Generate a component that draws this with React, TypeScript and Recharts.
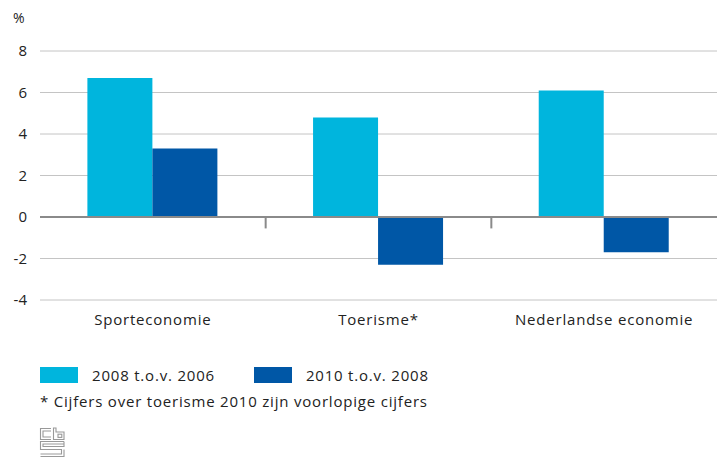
import { BarChart, Bar, XAxis, YAxis, CartesianGrid, ReferenceLine } from 'recharts'

const categories = ['Sporteconomie', 'Toerisme*', 'Nederlandse economie']
const values2008 = [6.7, 4.8, 6.1]
const values2010 = [3.3, -2.3, -1.7]
const yTicks = [-4, -2, 0, 2, 4, 6, 8]

const seriesNames = ['2008 t.o.v. 2006', '2010 t.o.v. 2008']
const COLORS = ['#00b5dd', '#0057a6']
const FONT = '"Open Sans", sans-serif'
const LS = 0.8

const data = categories.map((name, i) => ({
  name,
  a: values2008[i],
  b: values2010[i],
}))

function CbsLogo() {
  // rough outline of the CBS mark
  return (
    <svg width={34} height={33} viewBox="0 0 34 33" style={{ display: 'block' }}>
      <g fill="none" stroke="#999" strokeWidth={1.1}>
        <path d="M15 4.5 H4.5 V15.5 H15" />
        <path d="M15 7 H7 V13 H15" />
        <path d="M17.5 4 V15.5 H28 V8 H20 V4 Z" />
        <rect x={22} y={10.2} width={3.8} height={3.2} />
        <path d="M28 17.5 H4.5 V25.5 H25.5 V30 H4.5" />
        <path d="M28 17.5 V22.5 H7 V20 H28" />
        <path d="M28 25.5 V32.5 H4.5" />
      </g>
    </svg>
  )
}

export default function App() {
  return (
    <div style={{ position: 'absolute', left: 0, top: 0, width: 717, height: 457, background: '#fff', fontFamily: FONT, color: '#222', overflow: 'hidden', letterSpacing: LS }}>
      <div style={{ position: 'absolute', left: 13, top: 8, fontSize: 14, letterSpacing: 0 }}>%</div>
      <BarChart
        width={717}
        height={345}
        data={data}
        margin={{ top: 51, right: 0, bottom: 0, left: 0 }}
        barGap={0}
        barCategoryGap="21%"
      >
        <CartesianGrid vertical={false} stroke="#c4c4c4" strokeWidth={1} />
        <XAxis
          dataKey="name"
          axisLine={false}
          tickLine={false}
          tickSize={0}
          tickMargin={14}
          height={45}
          tick={{ fill: '#222', fontSize: 15, fontFamily: FONT, letterSpacing: LS }}
          interval={0}
        />
        <YAxis
          domain={[-4, 8]}
          ticks={yTicks}
          width={40}
          axisLine={false}
          tickLine={false}
          tickSize={0}
          tickMargin={13}
          tick={{ fill: '#222', fontSize: 15, fontFamily: FONT, letterSpacing: 0 }}
          interval={0}
        />
        <Bar dataKey="a" name={seriesNames[0]} fill={COLORS[0]} isAnimationActive={false} />
        <Bar dataKey="b" name={seriesNames[1]} fill={COLORS[1]} isAnimationActive={false} />
        <ReferenceLine y={0} stroke="#8a8a8a" strokeWidth={2} />
        {categories.slice(1).map(c => (
          <ReferenceLine
            key={c}
            position="start"
            segment={[{ x: c, y: 0 }, { x: c, y: -0.55 }]}
            stroke="#8a8a8a"
            strokeWidth={2}
          />
        ))}
      </BarChart>
      <div style={{ position: 'absolute', left: 40, top: 365, display: 'flex', alignItems: 'center', fontSize: 15 }}>
        {seriesNames.map((s, i) => (
          <div key={s} style={{ display: 'flex', alignItems: 'center', marginRight: 39 }}>
            <span style={{ width: 38, height: 16, background: COLORS[i], marginRight: 14, display: 'inline-block' }} />
            {s}
          </div>
        ))}
      </div>
      <div style={{ position: 'absolute', left: 40, top: 391, fontSize: 15 }}>
        * Cijfers over toerisme 2010 zijn voorlopige cijfers
      </div>
      <div style={{ position: 'absolute', left: 36, top: 424 }}>
        <CbsLogo />
      </div>
    </div>
  )
}
